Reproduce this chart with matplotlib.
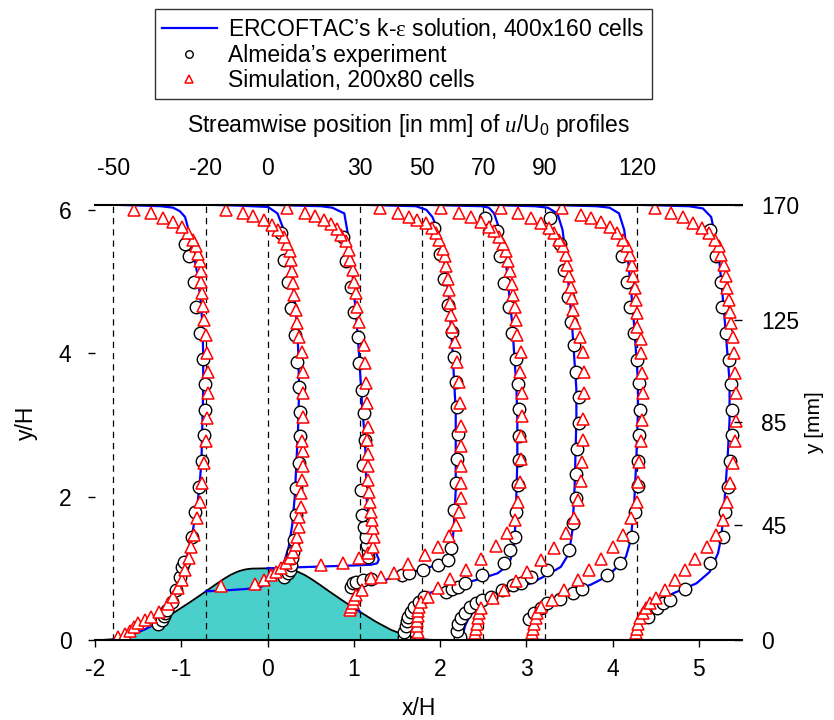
import numpy as np
import matplotlib
matplotlib.use('Agg')
import matplotlib.pyplot as plt

plt.rcParams['font.family'] = ['Liberation Sans', 'DejaVu Sans']
plt.rcParams['mathtext.fontset'] = 'custom'
plt.rcParams['mathtext.rm'] = 'Liberation Sans'
plt.rcParams['mathtext.it'] = 'Liberation Serif:italic'
plt.rcParams['mathtext.sf'] = 'Liberation Serif'
plt.rcParams['axes.unicode_minus'] = False

H = 28.0                 # hill height [mm]
y_top = 170.0 / H        # channel height in y/H

stations_mm = [-50, -20, 0, 30, 50, 70, 90, 120]
right_ticks_mm = [0, 45, 85, 125, 170]

# hill surface (x/H, y/H)
hill_x = [-1.929, -1.786, -1.607, -1.429, -1.25, -1.071, -0.893, -0.714, -0.607, -0.5, -0.429,
          -0.357, -0.321, -0.25, -0.179, 0.0, 0.179, 0.25, 0.321, 0.357, 0.429, 0.5, 0.607,
          0.714, 0.893, 1.071, 1.25, 1.429, 1.607, 1.786, 1.929]
hill_y = [0.0, 0.011, 0.060, 0.143, 0.259, 0.393, 0.532, 0.679, 0.770, 0.857, 0.908,
          0.948, 0.964, 0.986, 0.996, 1.0, 0.996, 0.986, 0.964, 0.948, 0.908, 0.857, 0.770,
          0.679, 0.532, 0.393, 0.259, 0.143, 0.060, 0.011, 0.0]

# ---- x = -50 mm ----
ke_y_1 = [0.011, 0.056, 0.153, 0.237, 0.418, 0.60, 0.84, 1.16, 1.53, 1.86, 2.19, 2.51, 3.0, 3.5,
          4.0, 4.42, 4.74, 5.12, 5.44, 5.72, 5.90, 5.98, 6.03, 6.05, 6.06, 6.071]
ke_u_1 = [0.0, 0.17, 0.37, 0.51, 0.62, 0.69, 0.77, 0.85, 0.92, 0.97, 1.0, 1.02, 1.03, 1.04,
          1.04, 1.03, 1.01, 0.97, 0.92, 0.87, 0.83, 0.77, 0.69, 0.55, 0.3, 0.0]
exp_y_1 = [0.23, 0.28, 0.33, 0.37, 0.42, 0.53, 0.70, 0.88, 1.02, 1.09, 1.43, 1.79, 2.14, 2.50,
           2.86, 3.21, 3.57, 3.92, 4.28, 4.65, 5.00, 5.35, 5.53]
exp_u_1 = [0.52, 0.56, 0.58, 0.60, 0.62, 0.68, 0.73, 0.77, 0.80, 0.82, 0.91, 0.95, 0.99, 1.03,
           1.05, 1.06, 1.06, 1.04, 1.00, 0.96, 0.93, 0.87, 0.83]
sim_y_1 = [0.038, 0.084, 0.13, 0.185, 0.24, 0.28, 0.325, 0.39, 0.50, 0.60, 0.72, 0.84, 0.98, 1.14,
           1.30, 1.46, 1.70, 1.93, 2.19, 2.47, 2.78, 3.10, 3.45, 3.74, 4.0, 4.25, 4.47, 4.66,
           4.84, 5.0, 5.15, 5.28, 5.39, 5.49, 5.58, 5.68, 5.76, 5.83, 5.88, 5.95, 6.0]
sim_u_1 = [0.05, 0.13, 0.19, 0.24, 0.29, 0.36, 0.44, 0.53, 0.63, 0.69, 0.75, 0.80, 0.83, 0.87,
           0.90, 0.93, 0.97, 1.00, 1.03, 1.05, 1.07, 1.08, 1.09, 1.09, 1.08, 1.07, 1.05, 1.04,
           1.03, 1.02, 1.01, 1.0, 0.98, 0.96, 0.92, 0.86, 0.79, 0.69, 0.57, 0.44, 0.24]

# ---- x = -20 mm ----
ke_y_2 = [0.679, 0.69, 0.71, 0.73, 0.78, 0.84, 0.90, 0.95, 1.1, 1.3, 1.6, 2.0, 2.5, 3.0, 3.5,
          4.04, 4.32, 4.74, 5.11, 5.49, 5.76, 5.95, 6.04, 6.06, 6.071]
ke_u_2 = [0.0, 0.2, 0.45, 0.62, 0.70, 0.74, 0.79, 0.84, 0.91, 0.96, 1.0, 1.03, 1.05, 1.07, 1.08,
          1.07, 1.06, 1.03, 0.99, 0.95, 0.89, 0.83, 0.72, 0.35, 0.0]
exp_y_2 = [0.88, 0.93, 0.98, 1.05, 1.14, 1.23, 1.39, 1.74, 2.12, 2.47, 2.84, 3.18, 3.53, 3.88,
           4.25, 4.63, 5.0, 5.30, 5.67]
exp_u_2 = [0.91, 0.95, 0.97, 0.99, 1.0, 1.01, 1.02, 1.04, 1.04, 1.08, 1.09, 1.09, 1.08, 1.06,
           1.03, 0.99, 0.95, 0.91, 0.87]
sim_y_2 = [0.753, 0.78, 0.84, 0.91, 0.95, 1.0, 1.07, 1.14, 1.23, 1.32, 1.44, 1.57, 1.72, 1.86,
           2.05, 2.23, 2.42, 2.64, 2.77, 3.11, 3.45, 3.74, 4.01, 4.23, 4.42, 4.60, 4.81, 4.98,
           5.14, 5.30, 5.42, 5.53, 5.62, 5.72, 5.79, 5.86, 5.91, 5.96, 6.0]
sim_u_2 = [0.18, 0.57, 0.67, 0.75, 0.81, 0.87, 0.93, 0.97, 1.01, 1.04, 1.06, 1.075, 1.08, 1.10,
           1.10, 1.11, 1.12, 1.13, 1.11, 1.12, 1.13, 1.13, 1.11, 1.08, 1.06, 1.04, 1.02, 1.01,
           1.0, 0.99, 0.97, 0.94, 0.90, 0.84, 0.77, 0.67, 0.55, 0.43, 0.23]

# ---- x = 0 mm ----
ke_y_3 = [1.0, 1.02, 1.04, 1.05, 1.07, 1.12, 1.21, 1.44, 1.95, 2.8, 3.2, 4.0, 4.32, 4.88, 5.35,
          5.67, 5.95, 6.03, 6.05, 6.06, 6.071]
ke_u_3 = [0.0, 0.5, 1.0, 1.2, 1.27, 1.29, 1.26, 1.21, 1.15, 1.13, 1.10, 1.06, 1.04, 1.0, 0.97,
          0.93, 0.89, 0.75, 0.62, 0.3, 0.0]
exp_y_3 = [1.16, 1.24, 1.33, 1.43, 1.58, 1.74, 2.09, 2.44, 2.79, 3.16, 3.49, 3.86, 4.23, 4.58,
           4.93, 5.28, 5.62]
exp_u_3 = [1.17, 1.16, 1.15, 1.14, 1.12, 1.10, 1.08, 1.11, 1.13, 1.12, 1.10, 1.06, 1.045, 1.0,
           0.97, 0.91, 0.87]
sim_y_3 = [1.05, 1.08, 1.15, 1.21, 1.30, 1.44, 1.56, 1.67, 1.79, 1.93, 2.07, 2.23, 2.42, 2.60,
           2.79, 2.97, 3.30, 3.58, 3.86, 4.11, 4.44, 4.65, 4.84, 5.0, 5.16, 5.30, 5.44, 5.56,
           5.65, 5.73, 5.80, 5.86, 5.91, 5.96, 6.02]
sim_u_3 = [0.62, 0.87, 1.06, 1.16, 1.22, 1.23, 1.22, 1.21, 1.20, 1.19, 1.18, 1.17, 1.16, 1.16,
           1.15, 1.16, 1.15, 1.14, 1.13, 1.12, 1.06, 1.04, 1.02, 1.0, 0.99, 0.96, 0.94, 0.91,
           0.85, 0.80, 0.74, 0.66, 0.55, 0.43, 0.23]

# ---- x = 30 mm ----
ke_y_4 = [0.393, 0.45, 0.55, 0.65, 0.72, 0.78, 0.84, 0.91, 0.98, 1.05, 1.14, 1.30, 1.63, 2.09,
          2.8, 3.2, 4.09, 4.42, 4.79, 5.16, 5.44, 5.72, 5.90, 6.0, 6.05, 6.06, 6.071]
ke_u_4 = [0.0, -0.03, -0.05, -0.04, 0.0, 0.08, 0.30, 0.48, 0.71, 0.90, 1.02, 1.07, 1.09, 1.11,
          1.11, 1.11, 1.07, 1.05, 1.03, 0.99, 0.96, 0.90, 0.84, 0.77, 0.65, 0.35, 0.0]
exp_y_4 = [0.74, 0.79, 0.81, 0.84, 0.85, 0.91, 0.93, 0.98, 1.04, 1.12, 1.29, 1.82, 2.19, 2.53,
           2.88, 3.25, 3.60, 3.95, 4.30, 4.67, 5.03, 5.39, 5.74]
exp_u_4 = [-0.10, -0.08, -0.05, 0.03, 0.13, 0.49, 0.57, 0.73, 0.91, 1.02, 1.05, 1.09, 1.11, 1.12,
           1.14, 1.13, 1.11, 1.09, 1.065, 1.02, 0.97, 0.93, 0.86]
sim_y_4 = [0.42, 0.46, 0.51, 0.57, 0.63, 0.70, 0.86, 0.88, 0.94, 1.06, 1.18, 1.30, 1.45, 1.60,
           1.79, 1.98, 2.19, 2.42, 2.70, 2.98, 3.30, 3.60, 3.88, 4.15, 4.37, 4.53, 4.70, 4.88,
           5.04, 5.21, 5.35, 5.46, 5.58, 5.67, 5.74, 5.81, 5.86, 5.90, 5.96, 6.02]
sim_u_4 = [-0.12, -0.10, -0.085, -0.07, -0.05, 0.02, 0.13, 0.24, 0.40, 0.56, 0.75, 0.90, 1.03,
           1.11, 1.15, 1.17, 1.17, 1.17, 1.17, 1.17, 1.16, 1.15, 1.13, 1.10, 1.07, 1.05, 1.045,
           1.03, 1.015, 1.0, 0.98, 0.96, 0.92, 0.88, 0.84, 0.77, 0.66, 0.57, 0.44, 0.23]

# ---- x = 50 mm ----
ke_y_5 = [0.011, 0.1, 0.2, 0.3, 0.4, 0.5, 0.58, 0.65, 0.72, 0.79, 0.86, 0.93, 1.02, 1.12, 1.30,
          1.67, 2.5, 3.07, 3.5, 4.42, 4.88, 5.25, 5.58, 5.81, 5.95, 6.03, 6.05, 6.06, 6.071]
ke_u_5 = [0.0, -0.08, -0.10, -0.10, -0.08, -0.04, 0.0, 0.07, 0.28, 0.49, 0.70, 0.88, 0.98, 1.03,
          1.07, 1.09, 1.11, 1.11, 1.10, 1.05, 1.01, 0.98, 0.94, 0.88, 0.84, 0.78, 0.70, 0.35, 0.0]
exp_y_5 = [0.046, 0.116, 0.19, 0.26, 0.325, 0.395, 0.46, 0.53, 0.60, 0.67, 0.71, 0.74, 0.79,
           0.91, 1.07, 1.25, 1.43, 1.79, 2.16, 2.51, 2.85, 3.22, 3.57, 3.92, 4.28, 4.65, 4.98,
           5.35, 5.70, 5.88]
exp_u_5 = [-0.20, -0.20, -0.18, -0.17, -0.155, -0.12, -0.09, -0.03, 0.03, 0.28, 0.35, 0.42, 0.50,
           0.70, 0.96, 1.03, 1.08, 1.10, 1.12, 1.13, 1.13, 1.13, 1.12, 1.09, 1.05, 1.01, 0.96,
           0.91, 0.88, 0.74]
sim_y_5 = [0.046, 0.116, 0.19, 0.26, 0.33, 0.40, 0.46, 0.53, 0.60, 0.72, 0.85, 0.98, 1.13, 1.31,
           1.49, 1.68, 1.93, 2.20, 2.52, 2.84, 3.12, 3.44, 3.74, 4.02, 4.25, 4.46, 4.65, 4.81,
           4.97, 5.14, 5.28, 5.42, 5.53, 5.62, 5.70, 5.76, 5.83, 5.90, 5.95, 6.02]
sim_u_5 = [-0.03, -0.045, -0.05, -0.05, -0.045, -0.04, -0.03, -0.01, 0.07, 0.185, 0.33, 0.51,
           0.69, 0.86, 0.99, 1.08, 1.12, 1.14, 1.15, 1.155, 1.165, 1.16, 1.14, 1.15, 1.11, 1.09,
           1.08, 1.065, 1.045, 1.026, 1.0, 0.976, 0.94, 0.90, 0.84, 0.78, 0.69, 0.57, 0.435, 0.22]

# ---- x = 70 mm ----
ke_y_6 = [0.0, 0.005, 0.1, 0.2, 0.3, 0.4, 0.5, 0.6, 0.65, 0.72, 0.79, 0.91, 1.02, 1.21, 1.53,
          2.14, 3.07, 3.5, 4.32, 4.88, 5.35, 5.72, 5.95, 6.03, 6.05, 6.06, 6.071]
ke_u_6 = [0.0, -0.2, -0.23, -0.21, -0.17, -0.11, -0.03, 0.1, 0.2, 0.38, 0.55, 0.745, 0.9, 0.995,
          1.034, 1.06, 1.08, 1.08, 1.034, 0.995, 0.957, 0.92, 0.86, 0.75, 0.6, 0.3, 0.0]
exp_y_6 = [0.046, 0.13, 0.22, 0.30, 0.38, 0.456, 0.51, 0.56, 0.60, 0.70, 0.77, 0.80, 0.88, 0.97,
           1.255, 1.63, 1.98, 2.32, 2.67, 3.02, 3.39, 3.74, 4.11, 4.44, 4.79, 5.16, 5.53, 5.88]
exp_u_6 = [-0.27, -0.30, -0.29, -0.26, -0.21, -0.15, -0.085, -0.01, 0.09, 0.22, 0.34, 0.44, 0.55,
           0.74, 0.99, 1.04, 1.07, 1.08, 1.09, 1.11, 1.11, 1.08, 1.05, 1.015, 0.98, 0.94, 0.89,
           0.78]
sim_y_6 = [0.024, 0.093, 0.16, 0.23, 0.30, 0.37, 0.44, 0.58, 0.70, 0.82, 0.95, 1.12, 1.28, 1.49,
           1.70, 1.95, 2.22, 2.48, 2.79, 3.08, 3.44, 3.74, 4.02, 4.23, 4.42, 4.60, 4.77, 4.93,
           5.08, 5.23, 5.37, 5.49, 5.58, 5.67, 5.74, 5.82, 5.88, 5.96, 6.02]
sim_u_6 = [-0.105, -0.097, -0.085, -0.074, -0.066, -0.047, -0.027, 0.108, 0.24, 0.38, 0.51, 0.67,
           0.82, 0.96, 1.05, 1.10, 1.13, 1.145, 1.155, 1.16, 1.17, 1.17, 1.16, 1.12, 1.06, 1.046,
           1.034, 1.015, 0.995, 0.977, 0.957, 0.93, 0.88, 0.82, 0.763, 0.667, 0.55, 0.404, 0.204]

# ---- x = 90 mm ----
ke_y_7 = [0.0, 0.005, 0.07, 0.2, 0.28, 0.4, 0.53, 0.6, 0.65, 0.70, 0.77, 0.89, 1.02, 1.16, 1.39,
          1.86, 2.5, 3.2, 3.6, 4.32, 4.88, 5.35, 5.72, 5.95, 6.03, 6.05, 6.06, 6.071]
ke_u_7 = [0.0, -0.16, -0.165, -0.155, -0.14, -0.08, 0.03, 0.15, 0.26, 0.36, 0.53, 0.726, 0.84,
          0.94, 0.995, 1.034, 1.06, 1.08, 1.08, 1.04, 1.0, 0.96, 0.92, 0.86, 0.75, 0.6, 0.3, 0.0]
exp_y_7 = [0.29, 0.37, 0.44, 0.51, 0.57, 0.65, 0.71, 0.90, 1.08, 1.43, 1.79, 2.15, 2.50, 2.86,
           3.21, 3.58, 3.91, 4.28, 4.65, 5.0, 5.35]
exp_u_7 = [-0.18, -0.124, -0.047, 0.02, 0.18, 0.33, 0.43, 0.726, 0.876, 1.015, 1.044, 1.075,
           1.085, 1.095, 1.10, 1.092, 1.073, 1.03, 0.988, 0.95, 0.90]
sim_y_7 = [0.024, 0.093, 0.16, 0.23, 0.30, 0.37, 0.46, 0.56, 0.70, 0.83, 0.98, 1.13, 1.30, 1.47,
           1.70, 1.92, 2.21, 2.48, 2.78, 3.07, 3.44, 3.73, 4.0, 4.20, 4.37, 4.56, 4.74, 4.91,
           5.08, 5.23, 5.37, 5.49, 5.58, 5.67, 5.76, 5.83, 5.88, 5.93, 6.02]
sim_u_7 = [-0.147, -0.147, -0.136, -0.13, -0.107, -0.09, -0.05, 0.08, 0.22, 0.38, 0.51, 0.65,
           0.79, 0.91, 1.0, 1.07, 1.08, 1.09, 1.11, 1.13, 1.14, 1.13, 1.12, 1.11, 1.073, 1.065,
           1.053, 1.042, 1.026, 1.015, 0.988, 0.957, 0.911, 0.833, 0.756, 0.648, 0.532, 0.416,
           0.197]

# ---- x = 120 mm ----
ke_y_8 = [0.0, 0.1, 0.19, 0.325, 0.46, 0.65, 0.79, 0.95, 1.21, 1.44, 1.91, 2.6, 3.07, 3.6, 4.32,
          4.88, 5.35, 5.67, 5.90, 6.02, 6.05, 6.06, 6.071]
ke_u_8 = [0.0, -0.02, -0.01, 0.046, 0.18, 0.414, 0.686, 0.84, 0.936, 0.975, 1.01, 1.05, 1.07,
          1.07, 1.024, 0.984, 0.946, 0.896, 0.857, 0.76, 0.6, 0.3, 0.0]
exp_y_8 = [0.325, 0.44, 0.51, 0.56, 0.71, 1.07, 1.43, 1.78, 2.14, 2.50, 2.86, 3.21, 3.57, 3.91,
           4.28, 4.65, 5.0, 5.35, 5.72]
exp_u_8 = [0.124, 0.228, 0.30, 0.38, 0.55, 0.84, 0.99, 1.02, 1.05, 1.07, 1.10, 1.10, 1.09, 1.062,
           1.03, 0.984, 0.973, 0.908, 0.838]
sim_y_8 = [0.024, 0.093, 0.16, 0.23, 0.30, 0.37, 0.44, 0.51, 0.58, 0.70, 0.84, 0.98, 1.13, 1.30,
           1.46, 1.67, 1.93, 2.19, 2.47, 2.77, 3.05, 3.44, 3.73, 4.0, 4.23, 4.42, 4.58, 4.74,
           4.91, 5.08, 5.23, 5.37, 5.49, 5.58, 5.67, 5.74, 5.81, 5.90, 5.95, 6.02]
sim_u_8 = [-0.02, -0.012, 0.0, 0.008, 0.028, 0.066, 0.104, 0.15, 0.22, 0.317, 0.432, 0.548, 0.675,
           0.806, 0.914, 0.991, 1.04, 1.07, 1.108, 1.13, 1.146, 1.14, 1.128, 1.116, 1.108, 1.09,
           1.07, 1.062, 1.039, 1.024, 1.0, 0.973, 0.946, 0.896, 0.83, 0.753, 0.646, 0.53, 0.394,
           0.208]

ke_y = [ke_y_1, ke_y_2, ke_y_3, ke_y_4, ke_y_5, ke_y_6, ke_y_7, ke_y_8]
ke_u = [ke_u_1, ke_u_2, ke_u_3, ke_u_4, ke_u_5, ke_u_6, ke_u_7, ke_u_8]
exp_y = [exp_y_1, exp_y_2, exp_y_3, exp_y_4, exp_y_5, exp_y_6, exp_y_7, exp_y_8]
exp_u = [exp_u_1, exp_u_2, exp_u_3, exp_u_4, exp_u_5, exp_u_6, exp_u_7, exp_u_8]
sim_y = [sim_y_1, sim_y_2, sim_y_3, sim_y_4, sim_y_5, sim_y_6, sim_y_7, sim_y_8]
sim_u = [sim_u_1, sim_u_2, sim_u_3, sim_u_4, sim_u_5, sim_u_6, sim_u_7, sim_u_8]

fs = 16.5

fig = plt.figure(figsize=(8.34, 7.2), dpi=100)
ax = fig.add_axes([0.1139, 0.1111, 0.7758, 0.6046])
ax.set_xlim(-2, 5.5)
ax.set_ylim(0, y_top)

# hill
hx = np.concatenate([[-2.0], hill_x, [5.5]])
hy = np.concatenate([[0.0], hill_y, [0.0]])
ax.fill_between(hx, hy, 0, color='#4ACFCB', lw=0, zorder=1)
ax.plot(hx, hy, color='black', lw=1.3, zorder=2)

x_st = [s / H for s in stations_mm]
for xs in x_st:
    ax.axvline(xs, color='black', lw=0.9, ls=(0, (5, 4)), zorder=3)

for i, xs in enumerate(x_st):
    ax.plot(xs + np.array(ke_u[i]), ke_y[i], color='blue', lw=1.6, zorder=4,
            label="ERCOFTAC’s k-$\\mathsf{\\varepsilon}$ solution, 400x160 cells" if i == 0 else None)
    ax.plot(xs + np.array(exp_u[i]), exp_y[i], ls='none', marker='o', ms=9, mfc='white',
            mec='black', mew=1.0, zorder=5, label="Almeida’s experiment" if i == 0 else None)
    ax.plot(xs + np.array(sim_u[i]), sim_y[i], ls='none', marker='^', ms=9, mfc='white',
            mec='red', mew=1.1, zorder=6, label="Simulation, 200x80 cells" if i == 0 else None)

ax.spines['left'].set_visible(False)
ax.spines['right'].set_visible(False)
ax.spines['top'].set_linewidth(1.5)
ax.spines['bottom'].set_linewidth(1.5)
ax.spines['top'].set_zorder(10)
ax.spines['bottom'].set_zorder(10)
ax.set_xticks(range(-2, 6))
ax.set_yticks([0, 2, 4, 6])
ax.tick_params(axis='both', labelsize=fs, direction='out', length=5, width=1)
ax.tick_params(axis='y', pad=12)
ax.tick_params(axis='x', pad=8)
ax.set_xlabel('x/H', fontsize=fs)
ax.set_ylabel('y/H', fontsize=fs)
ax.xaxis.set_label_coords(0.5, -0.13)
ax.yaxis.set_label_coords(-0.088, 0.5)

# right axis in mm
axr = ax.twinx()
axr.set_ylim(ax.get_ylim())
for sp in axr.spines.values():
    sp.set_visible(False)
axr.set_yticks([m / H for m in right_ticks_mm])
axr.set_yticklabels([str(m) for m in right_ticks_mm])
axr.tick_params(axis='y', direction='in', length=6, width=1, labelsize=fs, pad=14)
axr.set_ylabel('y [mm]', fontsize=15)
axr.yaxis.set_label_coords(1.097, 0.5)

# top axis with station positions
axt = ax.twiny()
axt.set_xlim(ax.get_xlim())
for sp in axt.spines.values():
    sp.set_visible(False)
axt.set_xticks(x_st)
axt.set_xticklabels([str(s) for s in stations_mm])
axt.tick_params(axis='x', length=0, labelsize=fs, pad=18)

ax.text(0.484, 1.183, 'Streamwise position [in mm] of $\\mathit{u}$/U$_0$ profiles',
        transform=ax.transAxes, ha='center', va='center', fontsize=fs)

leg = fig.legend(loc='upper left', bbox_to_anchor=(155 / 834, 1 - 9 / 720), fontsize=fs,
                 frameon=True, fancybox=False, edgecolor='black', handlelength=2.4,
                 handletextpad=0.5, labelspacing=0.12, markerscale=0.6, borderpad=0.3,
                 borderaxespad=0)
leg.get_frame().set_linewidth(1.0)

fig.savefig('out.png', dpi=100)
